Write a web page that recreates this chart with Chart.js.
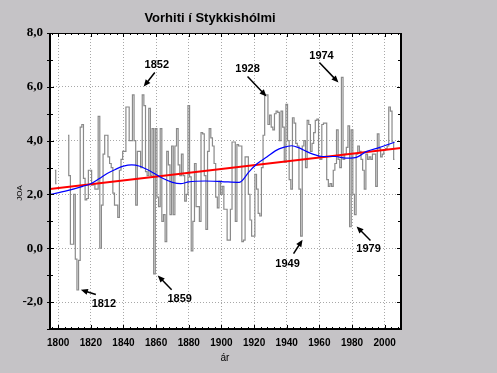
<!DOCTYPE html>
<html>
<head>
<meta charset="utf-8">
<script src="https://cdn.jsdelivr.net/npm/chart.js@4"></script>
<style>
  html, body { margin: 0; padding: 0; background: #c5c3c6; }
  #wrap { width: 497px; height: 373px; }
</style>
</head>
<body>
<div id="wrap"><canvas id="chart" width="497" height="373"></canvas></div>
<script>
// spring temperature, Stykkisholmur, one value per year from firstYear (null = missing)
const firstYear = 1798;
const springTemp = [
  2.9, 2.4,
  null, null, null, null, null, null, 4.2, 2.7, 0.15, 0.15,
  2.0, -0.4, -1.55, -0.45, 4.5, 4.6, 2.6, 1.8, 1.85, 2.9,
  2.9, 2.35, 2.4, 2.2, 2.2, 4.9, 0.0, 1.6, 3.5, 4.2,
  4.2, 3.4, 3.15, 3.0, 2.05, 1.6, 1.6, 1.15, 2.9, 3.3,
  3.6, 3.6, 5.25, 5.25, 4.0, 4.0, 5.7, 4.0, 1.6, 3.6,
  3.6, 3.0, 5.7, 5.3, 2.85, 2.7, 5.2, 2.7, 4.45, -0.95,
  4.45, 1.9, 1.55, 4.45, 1.0, 1.25, 0.25, 3.6, 3.1, 1.25,
  3.8, 1.25, 3.8, 4.45, 3.1, 2.7, 3.5, 2.7, 1.75, 2.0,
  5.3, 2.65, -0.1, 1.0, 3.15, 1.55, 1.55, 1.0, 4.3, 4.25,
  2.7, 0.7, 3.6, 4.45, 4.1, 3.8, 3.15, 1.9, 1.5, 2.5,
  2.0, 2.3, 1.45, 1.45, 0.3, 0.3, 1.45, 3.95, 3.95, 1.0,
  3.85, 3.8, 3.8, 0.25, 0.3, 3.4, 3.4, 2.0, 1.05, 0.45,
  0.45, 2.75, 2.2, 1.3, 1.2, 3.0, 4.2, 5.7, 5.7, 4.6,
  4.95, 4.5, 4.4, 5.0, 5.1, 5.05, 4.0, 5.1, 4.5, 3.2,
  5.35, 4.0, 2.55, 2.2, 4.85, 4.65, 3.9, 3.8, 2.2, 0.45,
  3.8, 4.0, 3.0, 4.75, 4.6, 3.6, 3.9, 4.3, 4.75, 4.8,
  3.4, 3.3, 4.6, 4.65, 4.65, 2.55, 2.3, 2.4, 2.3, 2.9,
  3.15, 4.4, 3.3, 3.0, 6.35, 3.3, 3.5, 3.75, 4.55, 0.8,
  4.4, 2.0, 1.25, 3.5, 3.8, 3.6, 3.3, 2.9, 2.2, 3.5,
  3.3, 3.4, 3.3, 3.5, 3.5, 2.3, 4.25, 3.7, 3.4, 3.5,
  3.65, 3.7, 3.8, 5.25, 5.1, 3.95, 3.3
];

// smoothed curve (blue)
const smoothYears  = [1795, 1805, 1815, 1820, 1825, 1830, 1835, 1840, 1845, 1850, 1856, 1864, 1870, 1875, 1880, 1890, 1900, 1911, 1917, 1922, 1928, 1933, 1938, 1943, 1948, 1952, 1956, 1962, 1970, 1976, 1982, 1989, 1997, 2006];
const smoothValues = [2.0, 2.13, 2.3, 2.4, 2.58, 2.78, 2.93, 3.05, 3.1, 3.05, 2.88, 2.6, 2.45, 2.4, 2.47, 2.5, 2.48, 2.45, 2.85, 3.15, 3.4, 3.62, 3.75, 3.81, 3.72, 3.6, 3.5, 3.41, 3.41, 3.35, 3.37, 3.6, 3.75, 3.94];

// linear trend (red)
const trendYears  = [1795, 2010];
const trendValues = [2.2, 3.73];

const xTicks = [1800, 1820, 1840, 1860, 1880, 1900, 1920, 1940, 1960, 1980, 2000];
const yTicks = [-2, 0, 2, 4, 6, 8];

// callout labels: label position and arrow, in data units
const callouts = [
  { text: '1852', lx: 1860.4, ly: 6.83, ax: 1859.2, ay: 6.53, bx: 1852.4, by: 6.01 },
  { text: '1928', lx: 1916.0, ly: 6.68, ax: 1916.0, ay: 6.38, bx: 1927.6, by: 5.64 },
  { text: '1974', lx: 1961.3, ly: 7.16, ax: 1960.0, ay: 6.90, bx: 1971.7, by: 6.16 },
  { text: '1812', lx: 1828.0, ly: -2.06, ax: 1823.1, ay: -1.72, bx: 1813.9, by: -1.54 },
  { text: '1859', lx: 1874.4, ly: -1.87, ax: 1869.5, ay: -1.54, bx: 1861.0, by: -1.01 },
  { text: '1949', lx: 1940.5, ly: -0.57, ax: 1944.2, ay: -0.20, bx: 1949.7, by: 0.32 },
  { text: '1979', lx: 1990.1, ly: -0.01, ax: 1991.3, ay: 0.29, bx: 1982.8, by: 0.81 }
];

const stepData = springTemp.map((v, i) => ({ x: firstYear + i, y: v }));
const smoothData = smoothYears.map((yr, i) => ({ x: yr, y: smoothValues[i] }));
const trendData = trendYears.map((yr, i) => ({ x: yr, y: trendValues[i] }));

const frame = {
  id: 'frame',
  beforeDraw(chart) {
    const { ctx, chartArea: a } = chart;
    ctx.save();
    ctx.fillStyle = '#c5c3c6';
    ctx.fillRect(0, 0, chart.width, chart.height);
    ctx.fillStyle = '#ffffff';
    ctx.fillRect(a.left, a.top, a.right - a.left, a.bottom - a.top);
    ctx.restore();
  },
  afterDraw(chart) {
    const { ctx, chartArea: a, scales } = chart;
    const xs = scales.x, ys = scales.y;
    ctx.save();
    ctx.strokeStyle = '#000';
    // border
    ctx.lineWidth = 1;
    ctx.beginPath();
    ctx.moveTo(a.left, a.top + 0.5); ctx.lineTo(a.right, a.top + 0.5);
    ctx.stroke();
    ctx.lineWidth = 2;
    ctx.beginPath();
    ctx.moveTo(a.left, a.top); ctx.lineTo(a.left, a.bottom);
    ctx.lineTo(a.right, a.bottom); ctx.lineTo(a.right, a.top);
    ctx.stroke();
    // y ticks
    ctx.lineWidth = 1;
    ctx.beginPath();
    for (let v = -3; v <= 8; v++) {
      const y = Math.round(ys.getPixelForValue(v)) + 0.5;
      const len = v % 2 === 0 ? 4 : 3;
      ctx.moveTo(a.left - 3, y); ctx.lineTo(a.left + len, y);
      ctx.moveTo(a.right - len, y); ctx.lineTo(a.right, y);
    }
    // x ticks
    for (let yr = 1796; yr <= 2008; yr += 4) {
      const x = Math.round(xs.getPixelForValue(yr)) + 0.5;
      const len = yr % 20 === 0 ? 4 : 2;
      ctx.moveTo(x, a.bottom); ctx.lineTo(x, a.bottom - len);
      ctx.moveTo(x, a.top); ctx.lineTo(x, a.top + len);
    }
    ctx.stroke();

    // title and axis titles
    ctx.fillStyle = '#000';
    ctx.textAlign = 'center';
    ctx.textBaseline = 'middle';
    ctx.font = 'bold 13px "Liberation Sans", Arial, sans-serif';
    ctx.fillText('Vorhiti í Stykkishólmi', 210, 18);
    ctx.font = '10px "Liberation Sans", Arial, sans-serif';
    ctx.fillText('ár', 225, 358);
    ctx.save();
    ctx.translate(20, 193);
    ctx.rotate(-Math.PI / 2);
    ctx.font = '8px "Liberation Sans", Arial, sans-serif';
    ctx.fillText('JOA', 0, 0);
    ctx.restore();

    // callouts
    ctx.font = 'bold 11px "Liberation Sans", Arial, sans-serif';
    callouts.forEach(c => {
      ctx.fillText(c.text, xs.getPixelForValue(c.lx), ys.getPixelForValue(c.ly));
      const x1 = xs.getPixelForValue(c.ax), y1 = ys.getPixelForValue(c.ay);
      const x2 = xs.getPixelForValue(c.bx), y2 = ys.getPixelForValue(c.by);
      const ang = Math.atan2(y2 - y1, x2 - x1);
      ctx.lineWidth = 1.5;
      ctx.beginPath();
      ctx.moveTo(x1, y1);
      ctx.lineTo(x2 - 4 * Math.cos(ang), y2 - 4 * Math.sin(ang));
      ctx.stroke();
      ctx.beginPath();
      ctx.moveTo(x2, y2);
      ctx.lineTo(x2 - 7 * Math.cos(ang) + 3 * Math.sin(ang), y2 - 7 * Math.sin(ang) - 3 * Math.cos(ang));
      ctx.lineTo(x2 - 7 * Math.cos(ang) - 3 * Math.sin(ang), y2 - 7 * Math.sin(ang) + 3 * Math.cos(ang));
      ctx.closePath();
      ctx.fill();
    });
    ctx.restore();
  }
};

new Chart(document.getElementById('chart'), {
  type: 'line',
  data: {
    datasets: [
      {
        label: 'Vorhiti',
        data: stepData,
        stepped: 'middle',
        borderColor: '#8a8a8a',
        borderWidth: 1.2,
        pointRadius: 0,
        spanGaps: false,
        order: 3
      },
      {
        label: 'Leitni',
        data: trendData,
        borderColor: '#ff0000',
        borderWidth: 2,
        pointRadius: 0,
        order: 2
      },
      {
        label: 'Jöfnuð',
        data: smoothData,
        borderColor: '#0000ff',
        borderWidth: 1.2,
        pointRadius: 0,
        cubicInterpolationMode: 'monotone',
        order: 1
      }
    ]
  },
  options: {
    responsive: false,
    animation: false,
    devicePixelRatio: 1,
    layout: { padding: { top: 33, right: 96, left: 0, bottom: 0 } },
    plugins: {
      legend: { display: false },
      title: { display: false },
      tooltip: { enabled: false }
    },
    scales: {
      x: {
        type: 'linear',
        min: 1795,
        max: 2010,
        afterBuildTicks: s => { s.ticks = xTicks.map(v => ({ value: v })); },
        afterFit: s => { s.height = 44; },
        grid: { color: '#a8a8a8', lineWidth: 1, drawTicks: false },
        border: { display: false, dash: [1, 2] },
        ticks: {
          padding: 8,
          color: '#000',
          maxRotation: 0,
          autoSkip: false,
          font: { family: '"Liberation Sans Narrow", "Liberation Sans", Arial, sans-serif', size: 10, weight: 'bold' },
          callback: v => String(v)
        }
      },
      y: {
        type: 'linear',
        min: -3,
        max: 8,
        afterBuildTicks: s => { s.ticks = yTicks.map(v => ({ value: v })); },
        afterFit: s => { s.width = 50; },
        grid: { color: '#a8a8a8', lineWidth: 1, drawTicks: false },
        border: { display: false, dash: [1, 2] },
        ticks: {
          padding: 7,
          color: '#000',
          font: { family: '"Liberation Serif", "Times New Roman", serif', size: 13, weight: 'bold' },
          callback: v => v.toFixed(1).replace('.', ',')
        }
      }
    }
  },
  plugins: [frame]
});
</script>
</body>
</html>
